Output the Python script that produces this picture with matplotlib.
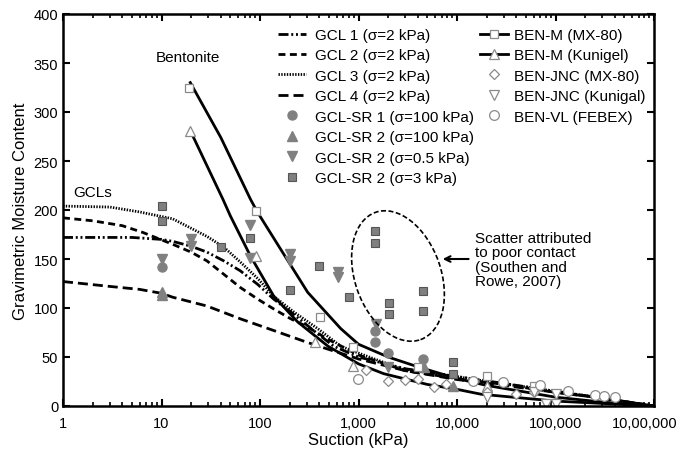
import matplotlib

matplotlib.use("Agg")

import matplotlib.pyplot as plt
import matplotlib.transforms as mtransforms
from matplotlib.lines import Line2D
from matplotlib.patches import Ellipse

plt.rcParams["font.family"] = ["Liberation Sans", "DejaVu Sans"]

# fitted curves (suction kPa, gravimetric moisture content %)
gcl1_s = [1, 2, 5, 10, 13, 20, 29, 43, 63, 95, 138, 205, 350, 560, 1000, 3000, 10000, 30000, 100000, 300000, 1000000]
gcl1_w = [172, 172, 172, 170, 168, 163, 157, 148, 138, 124, 109, 96, 77, 61, 50, 38, 30, 23, 15, 8, 0]

gcl2_s = [1, 2, 4, 6.5, 13, 20, 29, 46, 63, 95, 138, 205, 300, 490, 1000, 3000, 10000, 30000, 100000, 300000, 1000000]
gcl2_w = [192, 189, 184, 177, 165, 157, 148, 132, 121, 109, 99, 89, 81, 68, 52, 36, 28, 22, 14, 8, 0]

gcl3_s = [1, 3, 6, 13, 29, 43, 63, 95, 138, 220, 385, 660, 1000, 2700, 10000, 17600, 100000, 300000, 1000000]
gcl3_w = [204, 203, 198, 191, 173, 162, 147, 130, 112, 96, 79, 61, 54, 38, 30, 26, 15, 8, 0]

gcl4_s = [1, 3, 6, 10, 13, 29, 63, 138, 300, 490, 1000, 3000, 10000, 30000, 100000, 300000, 1000000]
gcl4_w = [127, 122, 119, 115, 111, 102, 89, 77, 65, 58, 48, 36, 27, 21, 14, 8, 0]

benm_mx_s = [19.6, 40, 80, 94, 162, 305, 660, 1000, 2000, 4000, 10000, 20000, 100000, 300000, 1000000]
benm_mx_w = [330, 274, 211, 198, 160, 116, 79, 63, 50, 40, 28, 21, 9, 4, 0]

benm_ku_s = [19.6, 42, 50, 80, 138, 240, 490, 1000, 1800, 5000, 10000, 17600, 100000, 1000000]
benm_ku_w = [281, 211, 194, 153, 112, 86, 61, 43, 33, 22, 17, 12, 5, 0]

# measured points
sr1_100_s = [10, 1470, 1470, 2000, 4500]
sr1_100_w = [142, 77, 65, 54, 48]

sr2_100_s = [10, 10, 4600, 9100]
sr2_100_w = [116, 113, 40, 20]

sr2_05_s = [10, 20, 20, 80, 80, 200, 200, 620, 620, 1500, 2000]
sr2_05_w = [150, 170, 163, 185, 151, 155, 148, 137, 132, 84, 40]

sr2_3_s = [10, 10, 40, 79, 200, 395, 800, 1470, 1470, 2040, 2040, 4530, 4530, 9100, 9100]
sr2_3_w = [204, 189, 162, 171, 118, 143, 111, 179, 166, 105, 94, 117, 97, 45, 33]

benm_mx_pts_s = [19.2, 92, 405, 880, 4000, 20000, 60000]
benm_mx_pts_w = [324, 199, 91, 60, 40, 31, 20]

benm_ku_pts_s = [19.6, 92, 360, 870, 20000]
benm_ku_pts_w = [281, 153, 65, 41, 20]

jnc_mx_s = [1200, 2000, 3000, 4000, 5900, 7800, 20000, 40000, 60000]
jnc_mx_w = [37, 26, 27, 28, 19, 22, 14, 12, 14]

jnc_ku_s = [20000, 60000, 100000, 80000, 100000]
jnc_ku_w = [9, 14, 12, 2, 2]

vl_s = [980, 14500, 29500, 69000, 135000, 250000, 310000, 400000]
vl_w = [28, 26, 25, 21, 15, 11, 10, 9]

xticks = [1, 10, 100, 1000, 10000, 100000, 1000000]
xtick_labels = ["1", "10", "100", "1,000", "10,000", "100,000", "10,00,000"]
yticks = [0, 50, 100, 150, 200, 250, 300, 350, 400]

GRAY = "#808080"
DARK = "#555555"
OPEN = "#8a8a8a"

ls_gcl1 = (0, (3.6, 1.0, 0.7, 1.0, 0.7, 1.0))
ls_gcl2 = (0, (2.5, 1.6))
ls_gcl3 = (0, (0.5, 0.5))
ls_gcl4 = (0, (3.6, 1.8))


def main() -> None:
    fig = plt.figure(figsize=(6.78, 4.56), dpi=100)
    ax = fig.add_axes([63 / 678, 49 / 456, 591 / 678, 392 / 456])

    ax.plot(gcl1_s, gcl1_w, color="black", lw=2, linestyle=ls_gcl1)
    ax.plot(gcl2_s, gcl2_w, color="black", lw=2, linestyle=ls_gcl2)
    ax.plot(gcl3_s, gcl3_w, color="black", lw=2, linestyle=ls_gcl3)
    ax.plot(gcl4_s, gcl4_w, color="black", lw=2, linestyle=ls_gcl4)
    ax.plot(benm_mx_s, benm_mx_w, color="black", lw=2)
    ax.plot(benm_ku_s, benm_ku_w, color="black", lw=2)

    ax.plot(sr1_100_s, sr1_100_w, "o", ms=6.5, mfc=GRAY, mec=GRAY)
    ax.plot(sr2_100_s, sr2_100_w, "^", ms=7.5, mfc=GRAY, mec=GRAY)
    ax.plot(sr2_05_s, sr2_05_w, "v", ms=7.5, mfc=GRAY, mec=GRAY)
    ax.plot(sr2_3_s, sr2_3_w, "s", ms=6, mfc=GRAY, mec=DARK, mew=0.8)
    ax.plot(benm_mx_pts_s, benm_mx_pts_w, "s", ms=6, mfc="white", mec=OPEN, mew=0.9)
    ax.plot(benm_ku_pts_s, benm_ku_pts_w, "^", ms=7, mfc="white", mec=OPEN, mew=0.9)
    ax.plot(jnc_mx_s, jnc_mx_w, "D", ms=5.5, mfc="white", mec=OPEN, mew=0.9)
    ax.plot(jnc_ku_s, jnc_ku_w, "v", ms=7, mfc="white", mec=OPEN, mew=0.9)
    ax.plot(vl_s, vl_w, "o", ms=7, mfc="white", mec=OPEN, mew=0.9)

    ax.set_xscale("log")
    ax.set_xlim(1, 1000000)
    ax.set_ylim(0, 400)
    ax.set_xticks(xticks)
    ax.set_xticklabels(xtick_labels)
    ax.set_yticks(yticks)
    ax.tick_params(which="both", direction="in", top=True, right=True, labelsize=10.5)
    ax.tick_params(which="major", length=5, width=1.5)
    ax.tick_params(which="minor", length=3, width=1.2)
    ax.tick_params(axis="x", which="major", pad=7)
    for spine in ax.spines.values():
        spine.set_linewidth(1.8)
    # keep the last tick label inside the figure
    last = ax.get_xticklabels()[-1]
    last.set_transform(last.get_transform() + mtransforms.ScaledTranslation(-0.09, 0, fig.dpi_scale_trans))

    ax.set_xlabel("Suction (kPa)", fontsize=12, labelpad=2)
    ax.set_ylabel("Gravimetric Moisture Content", fontsize=12, labelpad=4)

    ax.text(18.6, 356, "Bentonite", fontsize=11, ha="center", va="center")
    ax.text(2.02, 218, "GCLs", fontsize=11, ha="center", va="center")

    ell = Ellipse((3.98, 1.79), 0.86, 1.35, angle=19.5, transform=fig.dpi_scale_trans,
                  fill=False, edgecolor="black", lw=1.2, linestyle=(0, (3, 1.5)))
    fig.add_artist(ell)
    ax.annotate("", xy=(6700, 150), xytext=(14000, 150),
                arrowprops=dict(arrowstyle="->", color="black", lw=1.5))
    ax.text(15200, 149.5, "Scatter attributed\nto poor contact\n(Southen and\nRowe, 2007)",
            fontsize=11, ha="left", va="center", linespacing=1.05)

    h1 = [
        Line2D([], [], color="black", lw=2, linestyle=ls_gcl1),
        Line2D([], [], color="black", lw=2, linestyle=ls_gcl2),
        Line2D([], [], color="black", lw=2, linestyle=ls_gcl3),
        Line2D([], [], color="black", lw=2, linestyle=ls_gcl4),
        Line2D([], [], ls="none", marker="o", ms=6.5, mfc=GRAY, mec=GRAY),
        Line2D([], [], ls="none", marker="^", ms=7.5, mfc=GRAY, mec=GRAY),
        Line2D([], [], ls="none", marker="v", ms=7.5, mfc=GRAY, mec=GRAY),
        Line2D([], [], ls="none", marker="s", ms=6, mfc=GRAY, mec=DARK, mew=0.8),
    ]
    l1 = [
        "GCL 1 (σ=2 kPa)",
        "GCL 2 (σ=2 kPa)",
        "GCL 3 (σ=2 kPa)",
        "GCL 4 (σ=2 kPa)",
        "GCL-SR 1 (σ=100 kPa)",
        "GCL-SR 2 (σ=100 kPa)",
        "GCL-SR 2 (σ=0.5 kPa)",
        "GCL-SR 2 (σ=3 kPa)",
    ]
    leg1 = ax.legend(h1, l1, loc="upper left", bbox_to_anchor=((278 - 63) / 591, (407 - 29) / 392),
                     frameon=False, fontsize=11, handlelength=1.8, handletextpad=0.65,
                     labelspacing=0.42, borderpad=0, borderaxespad=0)
    ax.add_artist(leg1)

    h2 = [
        Line2D([], [], color="black", lw=2, marker="s", ms=6, mfc="white", mec=OPEN, mew=0.9),
        Line2D([], [], color="black", lw=2, marker="^", ms=7, mfc="white", mec=OPEN, mew=0.9),
        Line2D([], [], ls="none", marker="D", ms=5.5, mfc="white", mec=OPEN, mew=0.9),
        Line2D([], [], ls="none", marker="v", ms=7, mfc="white", mec=OPEN, mew=0.9),
        Line2D([], [], ls="none", marker="o", ms=7, mfc="white", mec=OPEN, mew=0.9),
    ]
    l2 = ["BEN-M (MX-80)", "BEN-M (Kunigel)", "BEN-JNC (MX-80)", "BEN-JNC (Kunigal)", "BEN-VL (FEBEX)"]
    ax.legend(h2, l2, loc="upper left", bbox_to_anchor=((480 - 63) / 591, (407 - 29) / 392),
              frameon=False, fontsize=11, handlelength=1.8, handletextpad=0.45,
              labelspacing=0.42, borderpad=0, borderaxespad=0)

    fig.savefig("out.png", dpi=100)
    plt.close(fig)


if __name__ == "__main__":
    main()
